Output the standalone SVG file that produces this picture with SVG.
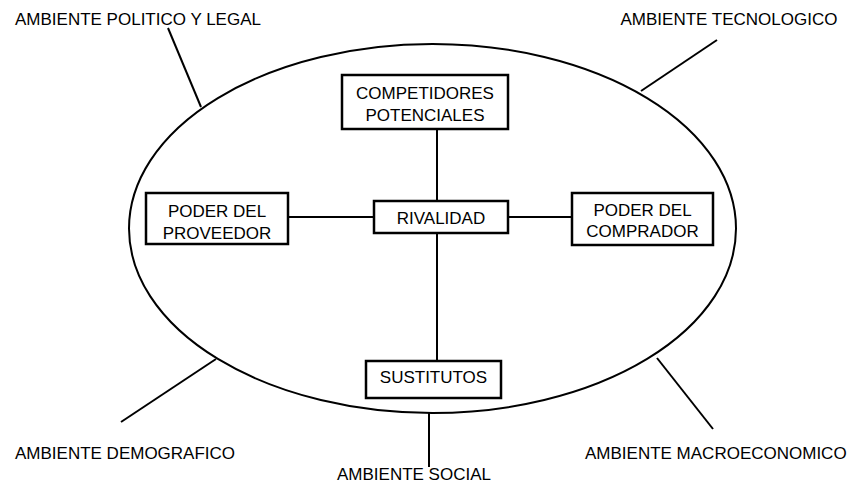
<svg xmlns="http://www.w3.org/2000/svg" width="854" height="485" viewBox="0 0 854 485">
<style>
text{font-family:"Liberation Sans",Arial,sans-serif;font-size:17px;fill:#000}
.box{fill:#fff;stroke:#000;stroke-width:2.5}
.ln{stroke:#000;stroke-width:2;fill:none}
.c{text-anchor:middle}
</style>
<rect width="854" height="485" fill="#fff"/>
<g id="environment">
<ellipse cx="432.5" cy="228.5" rx="303.5" ry="184.5" class="ln"/>
</g>
<g id="connectors">
<line x1="168" y1="28" x2="201" y2="107" class="ln"/>
<line x1="717" y1="40" x2="641" y2="91" class="ln"/>
<line x1="216" y1="359" x2="121" y2="422" class="ln"/>
<line x1="657" y1="358" x2="713" y2="429" class="ln"/>
<line x1="429" y1="413" x2="429" y2="467" class="ln"/>
<line x1="437" y1="129" x2="437" y2="201" class="ln"/>
<line x1="437" y1="233" x2="437" y2="361" class="ln"/>
<line x1="288" y1="217" x2="374" y2="217" class="ln"/>
<line x1="508" y1="217" x2="572" y2="217" class="ln"/>
</g>
<g id="competidores">
<rect x="342" y="75" width="166" height="54" class="box"/>
<text x="425" y="98.5" class="c">COMPETIDORES</text>
<text x="425" y="121" class="c">POTENCIALES</text>
</g>
<g id="proveedor">
<rect x="146" y="193" width="142" height="51" class="box"/>
<text x="217" y="216.5" class="c">PODER DEL</text>
<text x="217" y="239" class="c">PROVEEDOR</text>
</g>
<g id="rivalidad">
<rect x="374" y="201" width="134" height="32" class="box"/>
<text x="441" y="224" class="c">RIVALIDAD</text>
</g>
<g id="comprador">
<rect x="572" y="193" width="141" height="52" class="box"/>
<text x="642.5" y="215.5" class="c">PODER DEL</text>
<text x="642.5" y="237" class="c">COMPRADOR</text>
</g>
<g id="sustitutos">
<rect x="366" y="361" width="135" height="37" class="box"/>
<text x="433.5" y="383" class="c">SUSTITUTOS</text>
</g>
<g id="labels">
<text x="15" y="25">AMBIENTE POLITICO Y LEGAL</text>
<text x="620.5" y="25">AMBIENTE TECNOLOGICO</text>
<text x="15" y="459">AMBIENTE DEMOGRAFICO</text>
<text x="585" y="459">AMBIENTE MACROECONOMICO</text>
<text x="337" y="480">AMBIENTE SOCIAL</text>
</g>
</svg>
